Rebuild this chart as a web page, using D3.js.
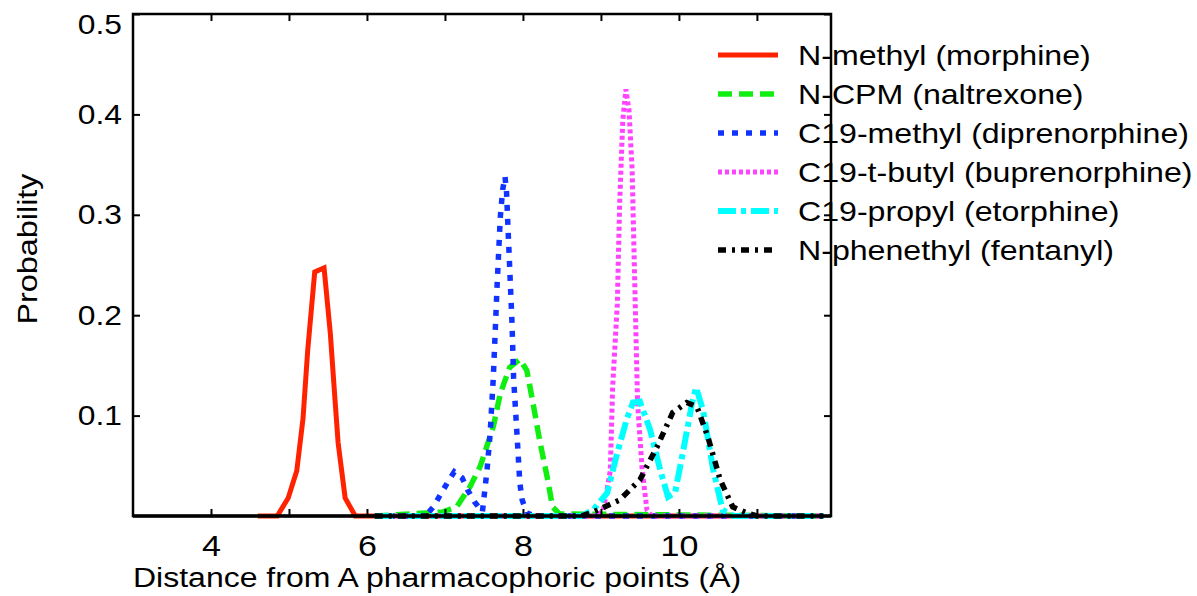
<!DOCTYPE html>
<html>
<head>
<meta charset="utf-8">
<script src="https://cdn.jsdelivr.net/npm/d3@7"></script>
<style>
  body { margin: 0; background: #fff; }
  text { font-family: "Liberation Sans", Arial, sans-serif; fill: #000; }
</style>
</head>
<body>
<svg id="chart_1"></svg>
<script>
// data
var seriesNames = ["N-methyl (morphine)", "N-CPM (naltrexone)", "C19-methyl (diprenorphine)",
    "C19-t-butyl (buprenorphine)", "C19-propyl (etorphine)", "N-phenethyl (fentanyl)"];

var morphine_x = [4.6, 4.85, 4.99, 5.10, 5.18, 5.24, 5.33, 5.45, 5.53, 5.59, 5.63, 5.72, 5.85, 11.85];
var morphine_y = [0, 0, 0.018, 0.045, 0.097, 0.165, 0.243, 0.247, 0.182, 0.116, 0.073, 0.018, 0, 0];

var naltrexone_x = [6.1, 6.97, 7.15, 7.32, 7.45, 7.62, 7.71, 7.83, 7.96, 8.05, 8.13, 8.22, 8.31, 8.38, 8.47, 11.85];
var naltrexone_y = [0, 0.004, 0.009, 0.029, 0.049, 0.089, 0.122, 0.148, 0.156, 0.145, 0.112, 0.073, 0.039, 0.009, 0.002, 0];

var diprenorphine_x = [6.1, 6.75, 6.85, 7.03, 7.12, 7.22, 7.29, 7.38, 7.48, 7.54, 7.58, 7.62, 7.67, 7.71, 7.74, 7.77,
    7.79, 7.81, 7.86, 7.88, 7.92, 7.96, 7.99, 8.05, 8.15, 11.85];
var diprenorphine_y = [0, 0, 0.009, 0.033, 0.044, 0.038, 0.026, 0.014, 0.004, 0.046, 0.083, 0.138, 0.232, 0.298, 0.325, 0.338,
    0.322, 0.284, 0.192, 0.138, 0.086, 0.033, 0.016, 0.003, 0, 0];

var buprenorphine_x = [6.1, 8.95, 9.03, 9.12, 9.15, 9.21, 9.24, 9.28, 9.32, 9.36, 9.40, 9.44, 9.47, 9.53, 9.59, 9.65, 11.85];
var buprenorphine_y = [0, 0, 0.006, 0.045, 0.128, 0.211, 0.311, 0.394, 0.425, 0.404, 0.345, 0.211, 0.112, 0.045, 0.006, 0, 0];

var etorphine_x = [6.1, 8.75, 8.90, 9.08, 9.21, 9.33, 9.41, 9.50, 9.63, 9.76, 9.86, 9.95, 10.05, 10.17, 10.22, 10.31, 10.44, 10.56, 10.7, 11.85];
var etorphine_y = [0, 0, 0.006, 0.023, 0.063, 0.096, 0.113, 0.114, 0.086, 0.046, 0.019, 0.023, 0.063, 0.113, 0.128, 0.105, 0.046, 0.006, 0, 0];

var fentanyl_x = [6.1, 8.75, 8.90, 9.24, 9.50, 9.72, 9.92, 10.10, 10.23, 10.37, 10.53, 10.69, 10.87, 11.0, 11.85];
var fentanyl_y = [0, 0, 0.004, 0.016, 0.036, 0.069, 0.103, 0.113, 0.109, 0.079, 0.036, 0.009, 0.003, 0, 0];

var xTicks = [4, 5, 6, 7, 8, 9, 10, 11];
var xTickLabels = [4, 6, 8, 10];
var yTicks = [0.1, 0.2, 0.3, 0.4, 0.5];

var seriesX = [morphine_x, naltrexone_x, diprenorphine_x, buprenorphine_x, etorphine_x, fentanyl_x];
var seriesY = [morphine_y, naltrexone_y, diprenorphine_y, buprenorphine_y, etorphine_y, fentanyl_y];

// styles
var colors = ["#ff2200", "#11ee11", "#1133ff", "#ff44ff", "#00ffff", "#000000"];
var dashes = [null, "14,7", "6,8", "4,3", "18,5,5,5", "8,6,3,6"];
var widths = [5, 5.5, 5.5, 5, 6, 5.5];
var STRETCH = 1.135;

var W = 1197, H = 596;
var margin = {top: 14, right: 366, bottom: 80, left: 133},
    width = W - margin.left - margin.right,
    height = H - margin.top - margin.bottom;

var svg = d3.select("#chart_1").attr("width", W).attr("height", H);

var xScale = d3.scaleLinear().domain([3, 11.95]).range([0, width]);
var yScale = d3.scaleLinear().domain([0, 0.5]).range([height, 0]);

var g = svg.append("g").attr("transform", "translate(" + margin.left + "," + margin.top + ")");

// widen text a little, the source font runs wider than Arial
function stretch(sel) {
    sel.each(function () {
        var len = this.getComputedTextLength();
        d3.select(this).attr("textLength", len * STRETCH).attr("lengthAdjust", "spacingAndGlyphs");
    });
}

// curves
var line = d3.line()
    .x(function (d) { return xScale(d[0]); })
    .y(function (d) { return yScale(d[1]); });

seriesX.forEach(function (xs, i) {
    var pts = xs.map(function (x, j) { return [x, seriesY[i][j]]; });
    g.append("path")
        .datum(pts)
        .attr("fill", "none")
        .attr("stroke", colors[i])
        .attr("stroke-width", widths[i])
        .attr("stroke-dasharray", dashes[i])
        .attr("stroke-linejoin", "miter")
        .attr("d", line);
});

// legend
var legend = g.append("g").attr("class", "legend");
seriesNames.forEach(function (name, i) {
    var yy = 51 + i * 39;
    legend.append("line")
        .attr("x1", 718 - margin.left).attr("x2", 778 - margin.left)
        .attr("y1", yy - 10).attr("y2", yy - 10)
        .attr("stroke", colors[i])
        .attr("stroke-width", widths[i])
        .attr("stroke-dasharray", dashes[i]);
    legend.append("text")
        .attr("x", 798 - margin.left).attr("y", yy)
        .style("font-size", "28.3px")
        .text(name);
});
stretch(legend.selectAll("text"));

// axes
var xAxisB = d3.axisBottom(xScale).tickValues(xTicks).tickSize(-7).tickPadding(19)
    .tickFormat(function (d) { return xTickLabels.indexOf(d) >= 0 ? d : ""; });
var xAxisT = d3.axisTop(xScale).tickValues(xTicks).tickSize(-7).tickFormat("");
var yAxisL = d3.axisLeft(yScale).tickValues(yTicks).tickSize(-7).tickPadding(11).tickFormat(d3.format(".1f"));
var yAxisR = d3.axisRight(yScale).tickValues(yTicks).tickSize(-7).tickFormat("");

g.append("g").attr("class", "x axis bottom").attr("transform", "translate(0," + height + ")").call(xAxisB);
g.append("g").attr("class", "x axis").call(xAxisT);
g.append("g").attr("class", "y axis left").call(yAxisL);
g.append("g").attr("class", "y axis").attr("transform", "translate(" + width + ",0)").call(yAxisR);

g.selectAll(".axis .domain").remove();
g.selectAll(".axis line").attr("stroke", "#000").attr("stroke-width", 2);
g.selectAll(".axis text").style("font-family", "Liberation Sans, Arial, sans-serif").attr("fill", "#000");
g.selectAll(".left text").style("font-size", "28px");
g.selectAll(".bottom text").style("font-size", "30px");
// top label sits a bit under its tick so it stays inside the page
g.selectAll(".left .tick").filter(function (d) { return d === 0.5; })
    .select("text").attr("dy", "0.75em").attr("y", -2);
stretch(g.selectAll(".axis text"));

// frame
g.append("rect")
    .attr("width", width).attr("height", height)
    .attr("fill", "none").attr("stroke", "#000").attr("stroke-width", 2.5);
g.append("line")
    .attr("x1", 0).attr("x2", width).attr("y1", height).attr("y2", height)
    .attr("stroke", "#000").attr("stroke-width", 3.5);

// axis titles
var xt = svg.append("text")
    .attr("x", 133).attr("y", 587)
    .style("font-size", "28.2px")
    .text("Distance from A pharmacophoric points (\u00c5)");
var yt = svg.append("text")
    .attr("transform", "translate(37,249) rotate(-90)")
    .attr("text-anchor", "middle")
    .style("font-size", "28.5px")
    .text("Probability");
stretch(xt);
stretch(yt);
</script>
</body>
</html>
